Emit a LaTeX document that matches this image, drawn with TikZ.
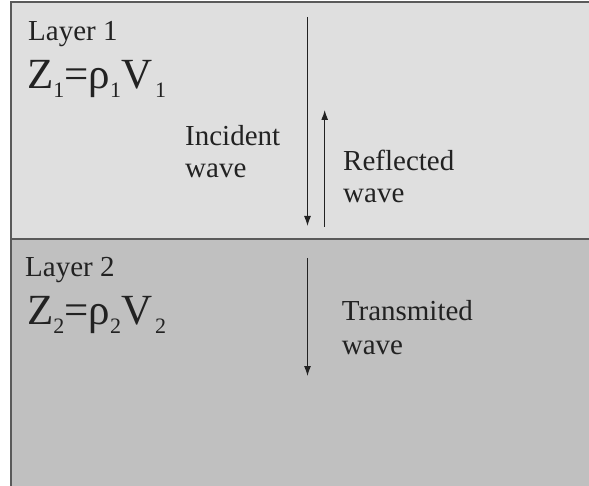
\documentclass[tikz,border=0pt]{standalone}
\usepackage{fontspec}
\setmainfont{Liberation Serif}
\usetikzlibrary{arrows.meta}
\definecolor{upfill}{HTML}{DFDFDF}
\definecolor{lowfill}{HTML}{C0C0C0}
\definecolor{edge}{HTML}{5A5A5A}
\definecolor{ink}{HTML}{222222}
\newcommand{\sbs}[1]{\raisebox{-9pt}{\fontsize{22}{22}\selectfont #1}}
\tikzset{
  lbl/.style={anchor=base west, inner sep=0pt, text=ink, font=\fontsize{29}{32}\selectfont, align=left},
  formula/.style={anchor=base west, inner sep=0pt, text=ink, font=\fontsize{43}{46}\selectfont},
  wavearrow/.style={draw=ink, line width=1.1pt, -{Latex[length=10pt,width=7pt]}},
  border/.style={draw=edge, line width=1.5pt}
}
\begin{document}
\begin{tikzpicture}[x=1pt,y=-1pt]
\useasboundingbox (0,0) rectangle (589,486);
\fill[upfill] (11,2) rectangle (589,239);
\fill[lowfill] (11,239) rectangle (589,486);
\draw[border] (11,486) -- (11,2) -- (589,2);
\draw[border] (11,239) -- (589,239);
% labels
\node[lbl] (l1) at (28,40.7) {Layer 1};
\node[formula] (z1) at (27,88.3) {Z\sbs{1}=ρ\sbs{1}V\kern3pt\sbs{1}};
\node[lbl] (l2) at (25,277) {Layer 2};
\node[formula] (z2) at (27,325) {Z\sbs{2}=ρ\sbs{2}V\kern3pt\sbs{2}};
\node[lbl] (inc) at (185,146) {Incident};
\node[lbl] (incw) at (185,178) {wave};
\node[lbl] (ref) at (343,170.7) {Reflected};
\node[lbl] (refw) at (343,203) {wave};
\node[lbl] (tra) at (341.7,320.7) {Transmited};
\node[lbl] (traw) at (341.7,354) {wave};
% arrows
\coordinate (i0) at (307.5,17);
\coordinate (i1) at (307.5,226);
\coordinate (r0) at (324.7,227);
\coordinate (r1) at (324.7,110);
\coordinate (t0) at (307.5,258);
\coordinate (t1) at (307.5,376);
\draw[wavearrow] (i0) -- (i1);
\draw[wavearrow] (r0) -- (r1);
\draw[wavearrow] (t0) -- (t1);
\end{tikzpicture}
\end{document}
